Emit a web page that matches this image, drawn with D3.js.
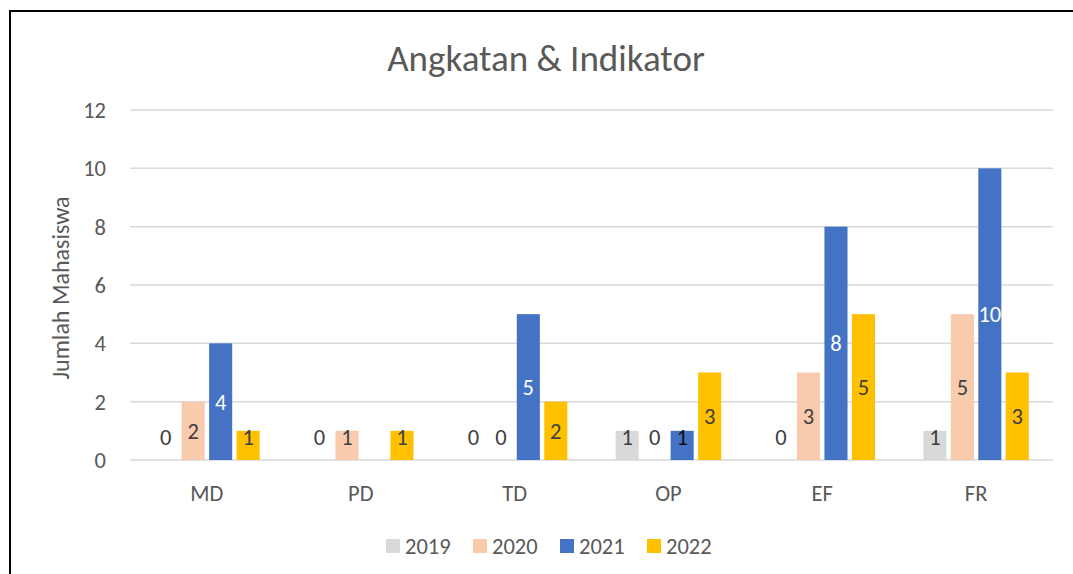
<!DOCTYPE html>
<html><head><meta charset="utf-8">
<script src="https://cdn.jsdelivr.net/npm/d3@7"></script>
<style>body{margin:0;background:#fff}svg{display:block}text{font-family:Carlito,Calibri,Lato,"Open Sans",sans-serif}</style>
</head><body><svg id="c" width="1073" height="574"></svg>
<script>
const categories = ["MD","PD","TD","OP","EF","FR"];
const seriesNames = ["2019","2020","2021","2022"];
const v2019 = [0,0,0,1,0,1];
const v2020 = [2,1,0,0,3,5];
const v2021 = [4,null,5,1,8,10];
const v2022 = [1,1,2,3,5,3];
const yTicks = [0,2,4,6,8,10,12];
const colors = ["#D9D9D9","#F8CBAD","#4472C4","#FFC000"];
const labelColors = [["#404040","#404040","#404040","#404040","#404040","#404040"],
                     ["#404040","#404040","#404040","#404040","#404040","#404040"],
                     ["#fff","#fff","#fff","#111","#fff","#fff"],
                     ["#404040","#404040","#404040","#404040","#404040","#404040"]];
const values = [v2019,v2020,v2021,v2022];

const svg = d3.select("#c");
svg.append("rect").attr("x",10).attr("y",11).attr("width",1100).attr("height",600)
  .attr("fill","none").attr("stroke","#000").attr("stroke-width",2);

const L=130,R=1053,T=110,B=460;
const FS=22.5;
const x = d3.scaleBand().domain(categories).range([L,R]);
const y = d3.scaleLinear().domain([0,12]).range([B,T]);
const groupW = 105.5;
const xs = d3.scaleBand().domain(seriesNames).range([0,groupW]).paddingInner(0.16);

svg.append("g").selectAll("line").data(yTicks).join("line")
  .attr("x1",L).attr("x2",R).attr("y1",d=>y(d)).attr("y2",d=>y(d))
  .attr("stroke","#D9D9D9").attr("stroke-width",1.5);

svg.append("g").selectAll("text").data(yTicks).join("text")
  .attr("x",106).attr("y",d=>y(d)).attr("dy","0.35em").attr("text-anchor","end")
  .attr("font-size",FS).attr("fill","#595959").text(d=>d);

svg.append("text").attr("transform",`translate(${69},${(T+B)/2+3}) rotate(-90)`)
  .attr("text-anchor","middle").attr("font-size",24).attr("fill","#595959").text("Jumlah Mahasiswa");

svg.append("text").attr("x",546).attr("y",71).attr("text-anchor","middle")
  .attr("font-size",37).attr("fill","#595959").text("Angkatan & Indikator");

svg.append("g").selectAll("text").data(categories).join("text")
  .attr("x",d=>x(d)+x.bandwidth()/2).attr("y",493).attr("dy","0.35em").attr("text-anchor","middle")
  .attr("font-size",FS).attr("fill","#595959").text(d=>d);

seriesNames.forEach((s,si)=>{
  const g = svg.append("g");
  const data = categories.map((c,ci)=>({c,ci,v:values[si][ci]})).filter(d=>d.v!==null);
  const bx = d=>x(d.c)+x.bandwidth()/2-groupW/2+xs(s);
  g.selectAll("rect").data(data.filter(d=>d.v>0)).join("rect")
    .attr("x",bx).attr("width",xs.bandwidth())
    .attr("y",d=>y(d.v)).attr("height",d=>B-y(d.v)).attr("fill",colors[si]);
  g.selectAll("text").data(data).join("text")
    .attr("x",d=>bx(d)+xs.bandwidth()/2)
    .attr("y",d=>Math.min((y(d.v)+B)/2, B-23)).attr("dy","0.35em")
    .attr("text-anchor","middle").attr("font-size",FS)
    .attr("fill",d=>labelColors[si][d.ci]).text(d=>d.v);
});

const leg = svg.append("g");
const legX = [386,473,560,647];
seriesNames.forEach((s,i)=>{
  leg.append("rect").attr("x",legX[i]).attr("y",539).attr("width",14).attr("height",14).attr("fill",colors[i]);
  leg.append("text").attr("x",legX[i]+19).attr("y",546).attr("dy","0.35em")
    .attr("font-size",FS).attr("fill","#595959").text(s);
});
</script></body></html>
